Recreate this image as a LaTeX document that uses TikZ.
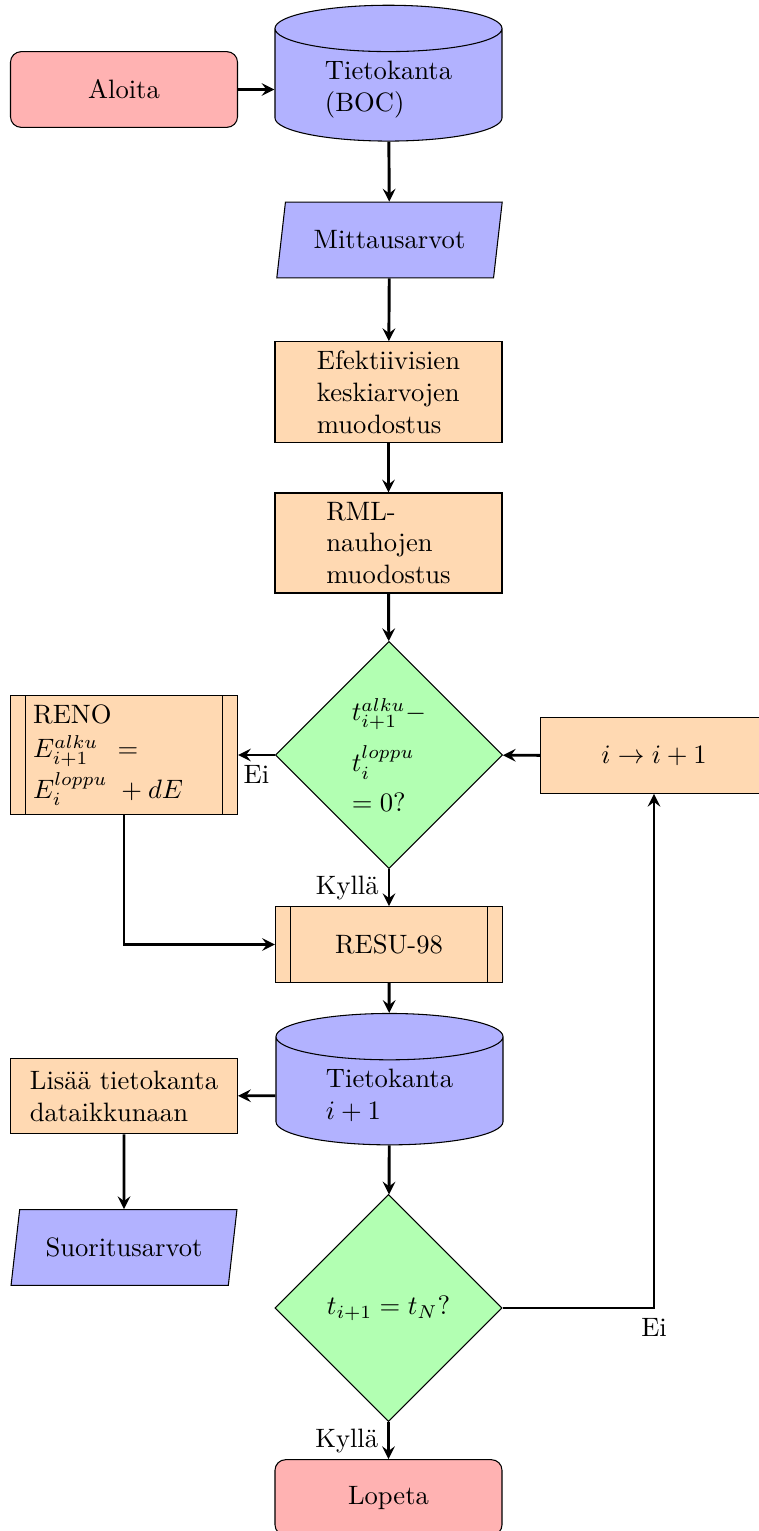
\documentclass[tikz,border=0pt]{standalone}
\usetikzlibrary{shapes.geometric,arrows}

\tikzset{
  startstop/.style={rectangle, rounded corners, minimum width=3cm, minimum height=1cm,
    draw=black, fill=red!30},
  io/.style={trapezium, trapezium left angle=79, trapezium right angle=101,
    trapezium stretches=true, minimum width=3cm, minimum height=1cm,
    draw=black, fill=blue!30},
  process/.style={rectangle, minimum width=3cm, minimum height=1cm,
    draw=black, fill=orange!30, align=left},
  decision/.style={diamond, minimum width=3cm, minimum height=3cm, inner sep=0pt,
    draw=black, fill=green!30, align=left},
  db/.style={cylinder, shape border rotate=90, aspect=0.32,
    minimum width=3cm, minimum height=1.57cm,
    draw=black, fill=blue!30, align=left},
  arrow/.style={line width=1.1pt, ->, >=stealth},
}

\begin{document}
\begin{tikzpicture}[x=0.013216cm, y=-0.013216cm]
  \useasboundingbox (0,0) rectangle (758,1531);

  % main column
  \node[startstop] (aloita) at (124,89.5) {Aloita};
  \node[db] (boc) at (388.5,89.5) {Tietokanta\\(BOC)};
  \node[io] (mitt) at (389.5,240) {Mittausarvot};
  \node[process] (efek) at (388.5,392) {Efektiivisien\\keskiarvojen\\muodostus};
  \node[process] (rml) at (388.5,543) {RML-\\nauhojen\\muodostus};
  \node[decision] (dec1) at (389,755)
    {$t^{alku}_{i+1}-$\\[5pt]$t^{loppu}_{i}$\\[3pt]$=0?$};
  \node[process, text width=2.4cm] (reno) at (124,755)
    {RENO\\[1pt]$E^{alku}_{i+1}\hskip4.5pt=$\\[1pt]$E^{loppu}_{i}\hskip3pt+dE$};
  \node[process] (inc) at (654,755.5) {$i\rightarrow i+1$};
  \node[process] (resu) at (389,944.5) {RESU-98};
  \node[db] (db2) at (389.5,1095.5) {Tietokanta\\$i+1$};
  \node[process] (lisaa) at (124,1096) {Lisää tietokanta\\dataikkunaan};
  \node[io] (suor) at (124,1247.5) {Suoritusarvot};
  \node[decision] (dec2) at (388.5,1308) {$t_{i+1}=t_N?$};
  \node[startstop] (lopeta) at (388.5,1497.5) {Lopeta};

  % inner side bars of the predefined-process boxes
  \foreach \n in {reno,resu}{
    \draw ([xshift=0.2cm]\n.north west) -- ([xshift=0.2cm]\n.south west);
    \draw ([xshift=-0.2cm]\n.north east) -- ([xshift=-0.2cm]\n.south east);
  }

  % connectors
  \draw[arrow] (aloita) -- (boc);
  \draw[arrow] (boc) -- (mitt);
  \draw[arrow] (mitt) -- (efek);
  \draw[arrow] (efek) -- (rml);
  \draw[arrow] (rml) -- (dec1);
  \draw[arrow] (dec1) -- node[below] {Ei} (reno);
  \draw[arrow] (inc) -- (dec1);
  \draw[arrow] (dec1) -- node[left] {Kyllä} (resu);
  \draw[arrow] (reno) |- (resu);
  \draw[arrow] (resu) -- (db2);
  \draw[arrow] (db2) -- (lisaa);
  \draw[arrow] (lisaa) -- (suor);
  \draw[arrow] (db2) -- (dec2);
  \draw[arrow] (dec2) -| node[below, pos=0.5] {Ei} (inc);
  \draw[arrow] (dec2) -- node[left] {Kyllä} (lopeta);
\end{tikzpicture}
\end{document}
